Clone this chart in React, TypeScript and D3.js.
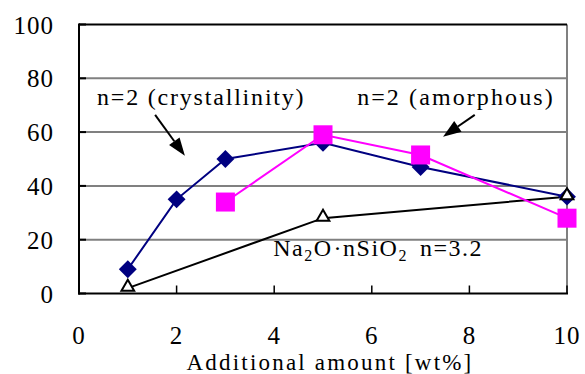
import React from "react";
import * as d3 from "d3";

// data
const crystX = [1, 2, 3, 5, 7, 10];
const crystY = [9, 35, 50, 56, 47, 36];
const amorX = [3, 5, 7, 10];
const amorY = [34, 59, 51.5, 28];
const naX = [1, 5, 10];
const naY = [2, 28, 36];
const xTicks = [0, 2, 4, 6, 8, 10];
const yTicks = [0, 20, 40, 60, 80, 100];

const W = 585;
const H = 374;
const FF = "Liberation Serif";
const serif = { fontFamily: FF };

const Arrow = ({ x1, y1, x2, y2 }: { x1: number; y1: number; x2: number; y2: number }) => {
  const ang = Math.atan2(y2 - y1, x2 - x1);
  const len = 18;
  const half = 6.5;
  const bx = x2 - len * Math.cos(ang);
  const by = y2 - len * Math.sin(ang);
  const px = -Math.sin(ang) * half;
  const py = Math.cos(ang) * half;
  return (
    <g>
      <line x1={x1} y1={y1} x2={bx} y2={by} stroke="#000" strokeWidth={2} />
      <polygon points={`${x2},${y2} ${bx + px},${by + py} ${bx - px},${by - py}`} fill="#000" />
    </g>
  );
};

export default function App() {
  const x = d3.scaleLinear().domain([0, 10]).range([79, 567]);
  const y = d3.scaleLinear().domain([0, 100]).range([293.5, 24.5]);

  const line = (xs: number[], ys: number[]) =>
    d3.line<number>().x((d, i) => x(xs[i])).y((d) => y(d))(ys) || "";

  return (
    <div>
      <svg width={W} height={H} style={{ position: "absolute", left: 0, top: 0 }}>
        {/* gridlines */}
        {yTicks.slice(1, 5).map((t) => (
          <line key={t} x1={x(0)} x2={x(10)} y1={y(t)} y2={y(t)} stroke="#808080" strokeWidth={2} />
        ))}
        <line x1={x(10)} x2={x(10)} y1={y(100)} y2={y(0)} stroke="#808080" strokeWidth={2} />
        <line x1={x(0)} x2={x(10)} y1={y(100)} y2={y(100)} stroke="#000" strokeWidth={2} />
        {/* axes */}
        <line x1={x(0)} x2={x(0)} y1={y(100) - 1} y2={y(0) + 1} stroke="#000" strokeWidth={2} />
        <line x1={x(0) - 1} x2={x(10) + 1} y1={y(0)} y2={y(0)} stroke="#000" strokeWidth={2} />
        {yTicks.map((t) => (
          <g key={t}>
            <line x1={x(0)} x2={x(0) + 7} y1={y(t)} y2={y(t)} stroke="#000" strokeWidth={2} />
            <text x={54} y={y(t) + 9} textAnchor="end" fontSize={25} letterSpacing={1} fontFamily={FF} style={serif}>{t}</text>
          </g>
        ))}
        {xTicks.map((t) => (
          <g key={t}>
            <line x1={x(t)} x2={x(t)} y1={y(0)} y2={y(0) - 8} stroke="#000" strokeWidth={1.5} />
            <text x={x(t)} y={344} textAnchor="middle" fontSize={25} letterSpacing={1} fontFamily={FF} style={serif}>{t}</text>
          </g>
        ))}
        <text x={330} y={370} textAnchor="middle" fontSize={23} letterSpacing={2.2} fontFamily={FF} style={serif}>Additional amount [wt%]</text>

        {/* series */}
        <path d={line(naX, naY)} fill="none" stroke="#000" strokeWidth={2} />
        <path d={line(crystX, crystY)} fill="none" stroke="#000080" strokeWidth={2} />
        <path d={line(amorX, amorY)} fill="none" stroke="#ff00ff" strokeWidth={2} />
        {crystX.map((v, i) => (
          <path key={i} d={d3.symbol(d3.symbolSquare, 160)() || ""} transform={`translate(${x(v)},${y(crystY[i])}) rotate(45)`} fill="#000080" />
        ))}
        {amorX.map((v, i) => (
          <rect key={i} x={x(v) - 9.5} y={y(amorY[i]) - 9.5} width={19} height={19} fill="#ff00ff" />
        ))}
        {naX.map((v, i) => (
          <path key={i} d={d3.symbol(d3.symbolTriangle, 70)() || ""} transform={`translate(${x(v)},${y(naY[i]) - 1})`} fill="#fff" stroke="#000" strokeWidth={2} />
        ))}

        {/* annotations */}
        <text x={x(0.37)} y={y(70)} fontSize={24} letterSpacing={1.8} fontFamily={FF} style={serif}>n=2 (crystallinity)</text>
        <text x={x(9.75)} y={y(70)} textAnchor="end" fontSize={24} letterSpacing={2.1} fontFamily={FF} style={serif}>n=2 (amorphous)</text>
        <text x={x(3.98)} y={y(13.9)} fontSize={24} letterSpacing={1.5} fontFamily={FF} style={serif}>
          Na<tspan dy={5} fontSize={16}>2</tspan>
          <tspan dy={-5}>O</tspan>
          <tspan dx={1}>·</tspan>
          <tspan>nSiO</tspan>
          <tspan dy={5} fontSize={16}>2</tspan>
          <tspan dy={-5} dx={12}>n=3.2</tspan>
        </text>
        <Arrow x1={x(1.56)} y1={y(66.4)} x2={x(2.17)} y2={y(51.2)} />
        <Arrow x1={x(8.11)} y1={y(66.4)} x2={x(7.46)} y2={y(58.3)} />
      </svg>
    </div>
  );
}
